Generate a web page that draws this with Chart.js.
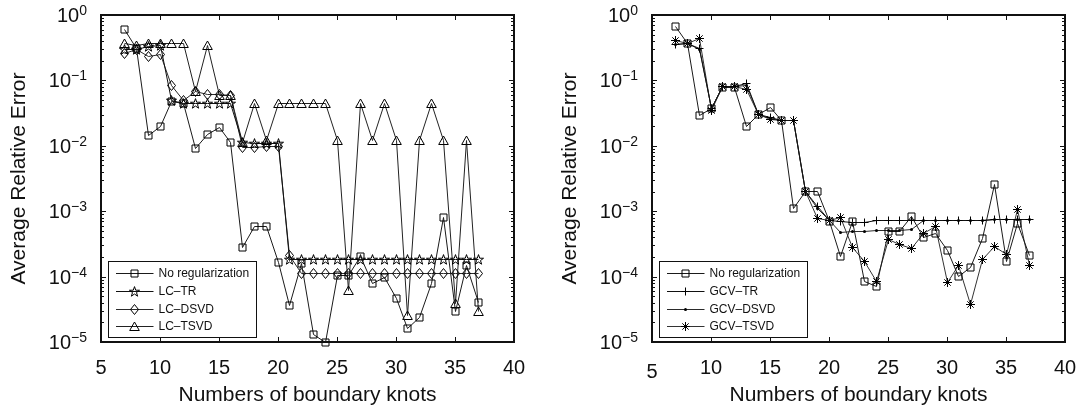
<!DOCTYPE html>
<html>
<head>
<meta charset="utf-8">
<script src="https://cdn.jsdelivr.net/npm/chart.js@4.4.1/dist/chart.umd.min.js"></script>
<style>
  html, body { margin: 0; padding: 0; background: #fff; }
  #wrap { position: relative; width: 1084px; height: 411px; overflow: hidden; }
  #wrap canvas { position: absolute; top: 0; }
</style>
</head>
<body>
<div id="wrap">
  <canvas id="leftChart" width="542" height="411" style="left:0;width:542px;height:411px"></canvas>
  <canvas id="rightChart" width="542" height="411" style="left:542px;width:542px;height:411px"></canvas>
</div>
<script>
// Number of boundary knots (shared horizontal axis of both panels)
const knots = [7, 8, 9, 10, 11, 12, 13, 14, 15, 16, 17, 18, 19, 20, 21, 22,
               23, 24, 25, 26, 27, 28, 29, 30, 31, 32, 33, 34, 35, 36, 37];

// Axis ticks
const xTickValues = [5, 10, 15, 20, 25, 30, 35, 40];
const yTickExponents = [0, -1, -2, -3, -4, -5];

// Left panel: L-curve parameter choice
const noRegLeft = [0.60, 0.31, 0.0145, 0.020, 0.048, 0.045, 0.0091, 0.015, 0.019, 0.0112,
                   2.8e-4, 5.8e-4, 5.8e-4, 1.66e-4, 3.6e-5, 1.6e-4, 1.3e-5, 1.0e-5, 1.05e-4, 1.05e-4,
                   2.0e-4, 7.9e-5, 9.6e-5, 4.7e-5, 1.6e-5, 2.4e-5, 7.9e-5, 8.1e-4, 2.9e-5, 1.48e-4, 4.0e-5];
const lcTR = [0.30, 0.30, 0.33, 0.34, 0.050, 0.044, 0.044, 0.044, 0.044, 0.044,
              0.0112, 0.011, 0.011, 0.011, 1.8e-4, 1.8e-4, 1.8e-4, 1.8e-4, 1.8e-4, 1.8e-4,
              1.8e-4, 1.8e-4, 1.8e-4, 1.8e-4, 1.8e-4, 1.8e-4, 1.8e-4, 1.8e-4, 1.8e-4, 1.8e-4, 1.8e-4];
const lcDSVD = [0.26, 0.30, 0.23, 0.25, 0.083, 0.049, 0.068, 0.060, 0.060, 0.058,
                0.0093, 0.0095, 0.0097, 0.0098, 2.1e-4, 1.1e-4, 1.1e-4, 1.1e-4, 1.1e-4, 1.1e-4,
                1.1e-4, 1.1e-4, 1.1e-4, 1.1e-4, 1.1e-4, 1.1e-4, 1.1e-4, 1.1e-4, 1.1e-4, 1.1e-4, 1.1e-4];
const lcTSVD = [0.37, 0.34, 0.37, 0.37, 0.37, 0.37, 0.068, 0.34, 0.058, 0.058,
                0.0112, 0.044, 0.012, 0.044, 0.044, 0.044, 0.044, 0.044, 0.012, 6.1e-5,
                0.044, 0.012, 0.044, 0.012, 2.5e-5, 0.012, 0.044, 0.012, 3.9e-5, 0.012, 2.9e-5];

// Right panel: GCV parameter choice
const noRegRight = [0.66, 0.37, 0.029, 0.037, 0.078, 0.078, 0.020, 0.030, 0.038, 0.024,
                    0.0011, 0.0020, 0.0020, 7.0e-4, 2.0e-4, 7.0e-4, 8.5e-5, 7.0e-5, 4.9e-4, 4.9e-4,
                    8.4e-4, 3.9e-4, 4.5e-4, 2.5e-4, 1.0e-4, 1.4e-4, 3.8e-4, 0.0026, 1.7e-4, 6.6e-4, 2.1e-4];
const gcvTR = [0.36, 0.37, 0.31, 0.037, 0.080, 0.080, 0.090, 0.030, 0.027, 0.024,
               0.024, 0.0020, 0.0012, 7.1e-4, 7.0e-4, 6.8e-4, 6.8e-4, 7.3e-4, 7.3e-4, 7.3e-4,
               7.3e-4, 7.3e-4, 7.3e-4, 7.3e-4, 7.3e-4, 7.3e-4, 7.3e-4, 7.4e-4, 7.4e-4, 7.4e-4, 7.4e-4];
const gcvDSVD = [0.36, 0.37, 0.30, 0.037, 0.080, 0.080, 0.085, 0.030, 0.026, 0.024,
                 0.024, 0.0020, 0.0011, 7.1e-4, 4.8e-4, 4.9e-4, 4.9e-4, 5.0e-4, 5.0e-4, 5.1e-4,
                 5.2e-4, 7.2e-4, 7.3e-4, 7.3e-4, 7.3e-4, 7.3e-4, 7.3e-4, 7.4e-4, 7.4e-4, 7.4e-4, 7.4e-4];
const gcvTSVD = [0.41, 0.37, 0.44, 0.035, 0.080, 0.080, 0.072, 0.030, 0.025, 0.024,
                 0.024, 0.0020, 7.6e-4, 7.1e-4, 7.9e-4, 2.8e-4, 1.7e-4, 8.3e-5, 3.7e-4, 3.1e-4,
                 2.7e-4, 4.5e-4, 5.8e-4, 8.0e-5, 1.46e-4, 3.8e-5, 1.8e-4, 2.9e-4, 2.2e-4, 1.05e-3, 1.5e-4];

const FONT = '"Liberation Sans", Arial, Helvetica, sans-serif';
const INK = '#111';

// Hollow markers on a 15x15 canvas centred on (7.5, 7.5)
function makeMarker(kind) {
  const c = document.createElement('canvas');
  c.width = 15; c.height = 15;
  const g = c.getContext('2d');
  g.strokeStyle = '#000'; g.fillStyle = '#000'; g.lineWidth = 1;
  g.beginPath();
  if (kind === 'square') {
    g.rect(4, 4, 7, 7);
  } else if (kind === 'pentagram') {
    for (let i = 0; i < 10; i++) {
      const r = i % 2 === 0 ? 5.3 : 2.1;
      const ang = -Math.PI / 2 + i * Math.PI / 5;
      const px = 7.5 + r * Math.cos(ang), py = 7.9 + r * Math.sin(ang);
      if (i === 0) g.moveTo(px, py); else g.lineTo(px, py);
    }
    g.closePath();
  } else if (kind === 'diamond') {
    g.moveTo(7.5, 2.5); g.lineTo(11.5, 7.5); g.lineTo(7.5, 12.5); g.lineTo(3.5, 7.5); g.closePath();
  } else if (kind === 'triangle') {
    g.moveTo(7.5, 3); g.lineTo(12.3, 11.5); g.lineTo(2.7, 11.5); g.closePath();
  } else if (kind === 'plus') {
    g.moveTo(7.5, 3.5); g.lineTo(7.5, 11.5); g.moveTo(3.5, 7.5); g.lineTo(11.5, 7.5);
  } else if (kind === 'dot') {
    g.arc(7.5, 7.5, 1.5, 0, Math.PI * 2); g.fill();
    return c;
  } else if (kind === 'asterisk') {
    g.moveTo(7.5, 3); g.lineTo(7.5, 12); g.moveTo(3, 7.5); g.lineTo(12, 7.5);
    g.moveTo(4.3, 4.3); g.lineTo(10.7, 10.7); g.moveTo(10.7, 4.3); g.lineTo(4.3, 10.7);
  }
  g.stroke();
  return c;
}

const markers = {
  square: makeMarker('square'), pentagram: makeMarker('pentagram'), diamond: makeMarker('diamond'),
  triangle: makeMarker('triangle'), plus: makeMarker('plus'), dot: makeMarker('dot'), asterisk: makeMarker('asterisk')
};

function series(label, values, marker, color) {
  return {
    label,
    data: knots.map((k, i) => ({ x: k, y: values[i] })),
    borderColor: color,
    borderWidth: 1,
    pointStyle: markers[marker],
    pointRadius: 4,
    pointHoverRadius: 4,
    tension: 0,
    fill: false,
    clip: 12
  };
}

// Put every point on a pixel centre so the 1px outlines stay crisp
const snapToPixels = {
  id: 'snapToPixels',
  afterDatasetsUpdate(chart) {
    chart.data.datasets.forEach((ds, i) => {
      chart.getDatasetMeta(i).data.forEach(p => {
        p.x = Math.round(p.x - 0.5) + 0.5;
        p.y = Math.round(p.y - 0.5) + 0.5;
      });
    });
  }
};

// Frame with inward ticks, tick labels, axis titles and an inset legend
function axesDecor(opts) {
  return {
    id: 'axesDecor',
    afterDraw(chart) {
      const { ctx, chartArea: a } = chart;
      const sx = chart.scales.x, sy = chart.scales.y;
      ctx.save();

      // tick marks
      ctx.strokeStyle = INK;
      ctx.lineWidth = 1;
      ctx.beginPath();
      xTickValues.forEach(v => {
        const px = Math.round(sx.getPixelForValue(v)) + 0.5;
        ctx.moveTo(px, a.bottom); ctx.lineTo(px, a.bottom - 5);
        ctx.moveTo(px, a.top); ctx.lineTo(px, a.top + 5);
      });
      yTickExponents.forEach(e => {
        const py = Math.round(sy.getPixelForValue(Math.pow(10, e))) + 0.5;
        ctx.moveTo(a.left, py); ctx.lineTo(a.left + 5, py);
        ctx.moveTo(a.right, py); ctx.lineTo(a.right - 5, py);
        if (e > -5) {
          for (let m = 2; m <= 9; m++) {
            const pm = Math.round(sy.getPixelForValue(m * Math.pow(10, e - 1))) + 0.5;
            ctx.moveTo(a.left, pm); ctx.lineTo(a.left + 3, pm);
            ctx.moveTo(a.right, pm); ctx.lineTo(a.right - 3, pm);
          }
        }
      });
      ctx.stroke();

      // box
      ctx.lineWidth = 2;
      ctx.strokeRect(a.left, a.top, a.right - a.left, a.bottom - a.top);

      ctx.fillStyle = INK;
      // x tick labels
      ctx.font = '20px ' + FONT;
      ctx.textAlign = 'center';
      ctx.textBaseline = 'alphabetic';
      xTickValues.forEach((v, i) => {
        const drop = i === 0 ? opts.firstXLabelDrop : 0;
        ctx.fillText(String(v), sx.getPixelForValue(v), a.bottom + 32 + drop);
      });

      // y tick labels: 10 with a raised exponent
      ctx.textAlign = 'right';
      yTickExponents.forEach(e => {
        const py = sy.getPixelForValue(Math.pow(10, e));
        const expText = e < 0 ? '\u2212' + (-e) : String(e);
        const right = a.left - 14;
        ctx.font = '14px ' + FONT;
        const ew = ctx.measureText(expText).width;
        ctx.fillText(expText, right, py);
        ctx.font = '20px ' + FONT;
        ctx.fillText('10', right - ew, py + 7);
      });

      // axis titles
      ctx.font = '21px ' + FONT;
      ctx.textAlign = 'center';
      ctx.fillText('Numbers of boundary knots', (a.left + a.right) / 2, 401);
      ctx.save();
      ctx.translate(a.left - 82, (a.top + a.bottom) / 2);
      ctx.rotate(-Math.PI / 2);
      ctx.textBaseline = 'middle';
      ctx.fillText('Average Relative Error', 0, 0);
      ctx.restore();

      // legend
      const bx = Math.round(a.left + 7) + 0.5;
      const bh = 76, bw = 148;
      const by = Math.round(a.bottom - 5 - bh) + 0.5;
      ctx.fillStyle = '#fff';
      ctx.fillRect(bx, by, bw, bh);
      ctx.strokeStyle = INK;
      ctx.lineWidth = 1;
      ctx.strokeRect(bx, by, bw, bh);
      ctx.font = '12px ' + FONT;
      ctx.textAlign = 'left';
      ctx.textBaseline = 'middle';
      chart.data.datasets.forEach((ds, i) => {
        const ry = Math.round(by + 11.5 + i * 17.8) + 0.5;
        ctx.strokeStyle = ds.borderColor;
        ctx.beginPath();
        ctx.moveTo(bx + 7.5, ry); ctx.lineTo(bx + 45, ry);
        ctx.stroke();
        const mk = ds.pointStyle;
        ctx.drawImage(mk, Math.round(bx + 26 - 7.5) + 0.5 - 0.5, Math.round(ry - 7.5));
        ctx.fillStyle = INK;
        ctx.fillText(ds.label, bx + 50, ry + 0.5);
      });

      ctx.restore();
    }
  };
}

function buildChart(canvasId, datasets, pad, opts) {
  return new Chart(document.getElementById(canvasId), {
    type: 'line',
    data: { datasets },
    options: {
      responsive: false,
      devicePixelRatio: 1,
      animation: false,
      events: [],
      layout: { padding: pad },
      plugins: { legend: { display: false }, tooltip: { enabled: false } },
      scales: {
        x: { type: 'linear', min: 5, max: 40, display: false },
        y: { type: 'logarithmic', min: 1e-5, max: 1, display: false }
      }
    },
    plugins: [snapToPixels, axesDecor(opts)]
  });
}

buildChart('leftChart', [
  series('No regularization', noRegLeft, 'square', '#1a1a1a'),
  series('LC\u2013TR', lcTR, 'pentagram', '#111'),
  series('LC\u2013DSVD', lcDSVD, 'diamond', '#2a2a2a'),
  series('LC\u2013TSVD', lcTSVD, 'triangle', '#222')
], { left: 101, right: 28, top: 15, bottom: 69 }, { firstXLabelDrop: 0 });

buildChart('rightChart', [
  series('No regularization', noRegRight, 'square', '#1a1a1a'),
  series('GCV\u2013TR', gcvTR, 'plus', '#111'),
  series('GCV\u2013DSVD', gcvDSVD, 'dot', '#2a2a2a'),
  series('GCV\u2013TSVD', gcvTSVD, 'asterisk', '#333')
], { left: 110, right: 19, top: 15, bottom: 69 }, { firstXLabelDrop: 4 });
</script>
</body>
</html>
